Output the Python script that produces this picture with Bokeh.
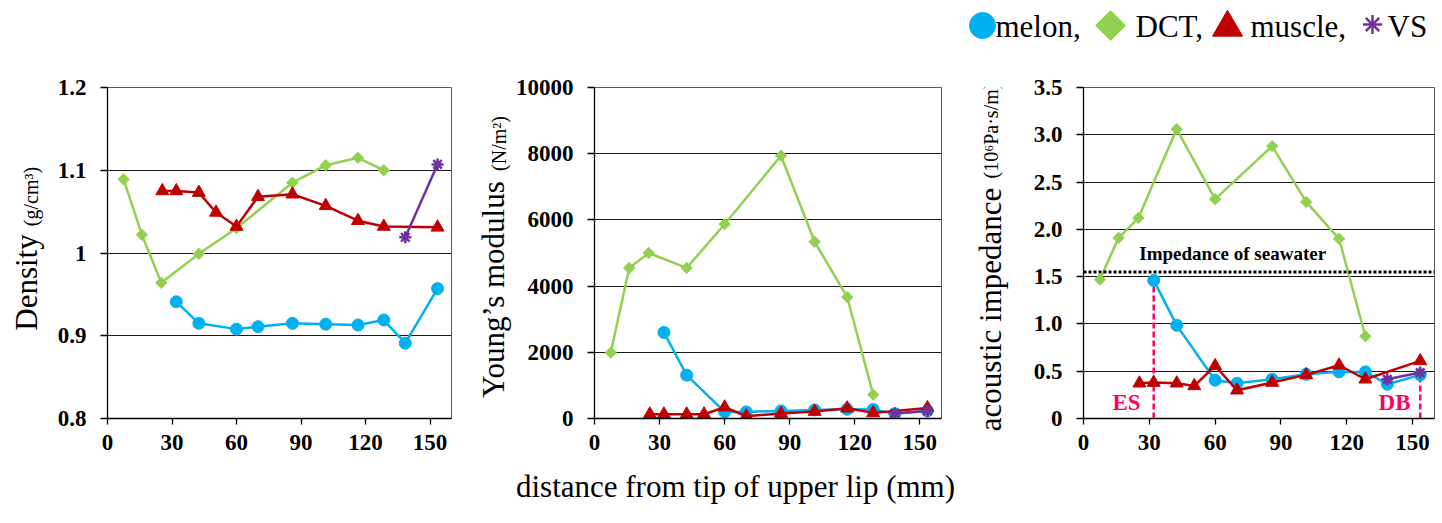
import math
from bokeh.plotting import figure
from bokeh.models import Range1d, FixedTicker, Label, Span
from bokeh.core.properties import value
from bokeh.layouts import row, column
from bokeh.embed import file_html
from bokeh.resources import INLINE

# ---------------- data ----------------
x_ticks = [0, 30, 60, 90, 120, 150]

dct_x = [7.5, 16, 25, 42.5, 60, 86, 101.5, 116.5, 128.5]
muscle_x = [25.5, 32, 42.5, 50.5, 60, 70, 86, 101.5, 116.5, 128.5, 153.5]
melon_x = [32, 42.5, 60, 70, 86, 101.5, 116.5, 128.5, 138.5, 153.5]
vs_x = [138.5, 153.5]

# Density (g/cm3)
dct_density = [1.089, 1.022, 0.964, 0.999, 1.030, 1.085, 1.106, 1.115, 1.100]
muscle_density = [1.075, 1.075, 1.073, 1.049, 1.032, 1.068, 1.071, 1.057, 1.039, 1.032, 1.031]
melon_density = [0.941, 0.915, 0.908, 0.911, 0.915, 0.914, 0.913, 0.919, 0.891, 0.957]
vs_density = [1.019, 1.107]

# Young's modulus (N/m2)
dct_young = [1990, 4550, 5000, 4550, 5870, 7940, 5340, 3670, 720]
muscle_young = [130, 130, 130, 130, 340, 70, 150, 210, 310, 170, 320]
melon_young = [2600, 1310, 200, 200, 230, 260, 280, 270, 140, 230]
vs_young = [160, 230]

# acoustic impedance (10^6 Pa s/m)
dct_imp = [1.47, 1.91, 2.12, 3.06, 2.32, 2.88, 2.29, 1.90, 0.87]
muscle_imp = [0.373, 0.38, 0.373, 0.345, 0.556, 0.299, 0.38, 0.461, 0.563, 0.415, 0.609]
melon_imp = [1.46, 0.985, 0.405, 0.373, 0.415, 0.468, 0.493, 0.493, 0.362, 0.461]
vs_imp = [0.415, 0.486]

seawater_imp = 1.55
es_db_x = [32, 153.5]
es_db_top = [1.46, 0.52]
es_db_names = ["ES", "DB"]

density_ticks = [0.8, 0.9, 1.0, 1.1, 1.2]
density_labels = ["0.8", "0.9", "1", "1.1", "1.2"]
young_ticks = [0, 2000, 4000, 6000, 8000, 10000]
imp_ticks = [0, 0.5, 1.0, 1.5, 2.0, 2.5, 3.0, 3.5]
imp_labels = ["0", "0.5", "1.0", "1.5", "2.0", "2.5", "3.0", "3.5"]

legend_labels = ["melon,", "DCT,", "muscle,", "VS"]
x_title = "distance from tip of upper lip (mm)"

# ---------------- style / geometry ----------------
FONT = "Liberation Serif"
C_MELON = "#00B0F0"
C_DCT = "#92D050"
C_MUSCLE = "#C00000"
C_VS = "#7030A0"
C_PINK = "#FF0066"

TOTAL_W = 1434
LEG_H = 50          # legend strip on top
FRAME_TOP = 87      # page y of plot frames
FRAME_H = 331
ROW_BOTTOM_BORDER = 50
ROW_H = (FRAME_TOP - LEG_H) + FRAME_H + ROW_BOTTOM_BORDER
XT_H = 50
X_END = 160
ROT_SHIFT = 35      # observed downward drift of rotated glyph text; compensated here


class Strip:
    """A figure with no axes whose frame fills the whole canvas; positions given in page px."""

    def __init__(self, x0, x1, y0, y1):
        self.y1 = y1
        f = figure(frame_width=x1 - x0, frame_height=y1 - y0, title=None,
                   x_range=Range1d(x0, x1), y_range=Range1d(0, y1 - y0),
                   x_axis_location=None, y_axis_location=None,
                   min_border=0, output_backend="svg", toolbar_location=None)
        f.outline_line_color = None
        f.grid.visible = False
        f.background_fill_color = "white"
        f.border_fill_color = "white"
        self.fig = f

    def y(self, page_y):
        return [self.y1 - v for v in page_y]


def make_panel(left_border, frame_w, right_border, y0, y1, yticks, ylabels):
    p = figure(frame_width=frame_w, frame_height=FRAME_H, title=None,
               min_border_left=left_border, min_border_right=right_border,
               min_border_top=FRAME_TOP - LEG_H, min_border_bottom=ROW_BOTTOM_BORDER,
               x_range=Range1d(0, X_END), y_range=Range1d(y0, y1),
               output_backend="svg", toolbar_location=None)
    p.background_fill_color = "white"
    p.border_fill_color = "white"
    p.outline_line_color = "#595959"
    p.outline_line_width = 1
    p.xgrid.visible = False
    p.ygrid.grid_line_color = "#1a1a1a"
    p.ygrid.grid_line_width = 1
    p.xaxis.ticker = FixedTicker(ticks=x_ticks)
    p.yaxis.ticker = FixedTicker(ticks=yticks)
    if ylabels is not None:
        p.yaxis.major_label_overrides = {(int(t) if float(t).is_integer() else t): l
                                         for t, l in zip(yticks, ylabels)}
    for ax in (p.xaxis[0], p.yaxis[0]):
        ax.axis_line_color = "black"
        ax.axis_line_width = 1.3
        ax.major_tick_line_color = "black"
        ax.major_tick_line_width = 1.3
        ax.major_tick_in = 0
        ax.minor_tick_line_color = None
        ax.major_label_text_font = FONT
        ax.major_label_text_font_style = "bold"
        ax.major_label_text_font_size = "23px"
        ax.major_label_text_color = "black"
    p.xaxis.major_tick_out = 6
    p.yaxis.major_tick_out = 7
    p.xaxis.major_label_standoff = 10
    p.yaxis.major_label_standoff = 14
    return p


def add_series(p, melon, dct, muscle, vs):
    p.line(melon_x, melon, line_color=C_MELON, line_width=2.5)
    p.scatter(melon_x, melon, marker="circle", size=12, fill_color=C_MELON, line_color=C_MELON)
    p.line(dct_x, dct, line_color=C_DCT, line_width=2.5)
    p.scatter(dct_x, dct, marker="square", angle=math.pi / 4, size=8,
              fill_color=C_DCT, line_color=C_DCT)
    p.line(muscle_x, muscle, line_color=C_MUSCLE, line_width=2.5)
    p.scatter(muscle_x, muscle, marker="triangle", size=13, fill_color=C_MUSCLE, line_color=C_MUSCLE)
    p.line(vs_x, vs, line_color=C_VS, line_width=2.5)
    p.scatter(vs_x, vs, marker="asterisk", size=12, line_color=C_VS, line_width=2.5)


def y_title(s, big, small, bx, by, sx, sy):
    # bx / sx: page x of the middle of the (rotated) text line; by / sy: page y of its centre
    s.fig.text(x=[bx], y=s.y([by - ROT_SHIFT]), text=[big], angle=math.pi / 2, text_align="center",
               text_baseline="middle", text_font=value(FONT),
               text_font_size=value("31px"), text_color="black")
    s.fig.text(x=[sx], y=s.y([sy - ROT_SHIFT]), text=[small], angle=math.pi / 2, text_align="center",
               text_baseline="middle", text_font=value(FONT),
               text_font_size=value("20px"), text_color="black")


# ---------------- y title strips + panels ----------------
yt1 = Strip(0, 50, LEG_H, LEG_H + ROW_H)
y_title(yt1, "Density", "(g/cm³)", 25.5, 280, 30, 194)

p1 = make_panel(57, 344, 21, 0.8, 1.2, density_ticks, density_labels)
add_series(p1, melon_density, dct_density, muscle_density, vs_density)

yt2 = Strip(472, 512, LEG_H, LEG_H + ROW_H)
y_title(yt2, "Young’s modulus", "(N/m²)", 492.5, 287, 498, 141)

p2 = make_panel(80, 347, 21, 0, 10000, young_ticks, None)
add_series(p2, melon_young, dct_young, muscle_young, vs_young)

yt3 = Strip(960, 1015, LEG_H, LEG_H + ROW_H)
y_title(yt3, "acoustic impedance", "(10⁶Pa·s/m)", 988, 307, 988, 128)

p3 = make_panel(66, 351, 2, 0, 3.5, imp_ticks, imp_labels)
p3.add_layout(Span(location=seawater_imp, dimension="width", line_color="black",
                   line_width=3, line_dash="3 2"))
p3.segment(x0=es_db_x, y0=[0] * len(es_db_x), x1=es_db_x, y1=es_db_top,
           line_color=C_PINK, line_width=2.5, line_dash="6 3")
add_series(p3, melon_imp, dct_imp, muscle_imp, vs_imp)
p3.add_layout(Label(x=68, y=1.74, text="Impedance of seawater", text_align="center",
                    text_baseline="middle", text_font=FONT, text_font_style="bold",
                    text_font_size="19px", text_color="black"))
for name, lx in zip(es_db_names, [19.6, 141.8]):
    p3.add_layout(Label(x=lx, y=0.166, text=name, text_align="center",
                        text_baseline="middle", text_font=FONT, text_font_style="bold",
                        text_font_size="23px", text_color=C_PINK))

# ---------------- legend strip (key markers + labels, page px) ----------------
ls = Strip(0, TOTAL_W, 0, LEG_H)
lf = ls.fig
lf.scatter(x=[982], y=ls.y([25]), marker="circle", size=26, fill_color=C_MELON, line_color=C_MELON)
lf.scatter(x=[1110], y=ls.y([25]), marker="square", angle=math.pi / 4, size=21,
           fill_color=C_DCT, line_color=C_DCT)
lf.scatter(x=[1227], y=ls.y([27]), marker="triangle", size=30, fill_color=C_MUSCLE, line_color=C_MUSCLE)
lf.scatter(x=[1372], y=ls.y([24]), marker="asterisk", size=19, line_color=C_VS, line_width=2.5)
lf.text(x=[995, 1135, 1250, 1387], y=ls.y([25.5] * 4), text=legend_labels,
        text_align="left", text_baseline="middle", text_font=value(FONT),
        text_font_size=value("31px"), text_color="black")

# ---------------- x title strip ----------------
top_xt = LEG_H + ROW_H
xs = Strip(0, TOTAL_W, top_xt, top_xt + XT_H)
xs.fig.text(x=[735], y=xs.y([486]), text=[x_title], text_align="center", text_baseline="middle",
            text_font=value(FONT), text_font_size=value("31px"), text_color="black")

layout = column(lf, row(yt1.fig, p1, yt2.fig, p2, yt3.fig, p3), xs.fig)
open("out.html", "w").write(file_html(layout, INLINE))
